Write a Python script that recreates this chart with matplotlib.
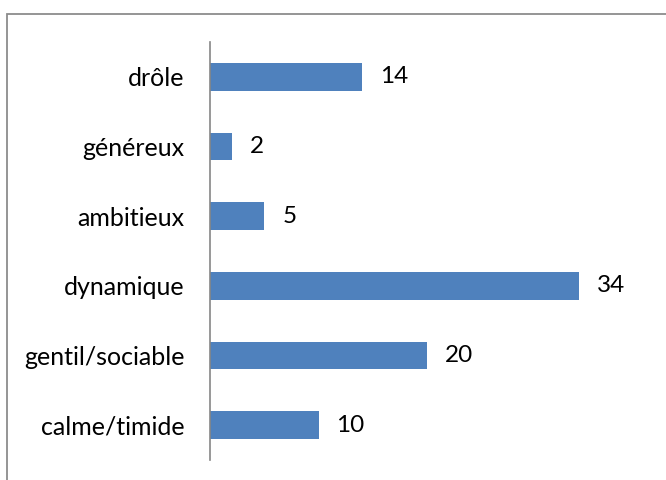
import matplotlib
matplotlib.use('Agg')
import matplotlib.pyplot as plt
from matplotlib.patches import Rectangle

# Categories from bottom to top, as drawn
categories = ['calme/timide', 'gentil/sociable', 'dynamique', 'ambitieux', 'généreux', 'drôle']
values = [10, 20, 34, 5, 2, 14]

W, H = 666, 480
fig = plt.figure(figsize=(W / 100, H / 100), dpi=100)
plt.rcParams['font.family'] = ['Lato', 'DejaVu Sans']

ax = fig.add_axes([210 / W, 1 - 460 / H, (644 - 210) / W, (460 - 42) / H])
ypos = list(range(len(categories)))
ax.barh(ypos, values, height=0.4, color='#4F81BD')

for y, v in zip(ypos, values):
    ax.annotate(str(v), (v, y), xytext=(18, 0), textcoords='offset pixels',
                va='center', ha='left', fontsize=17.5, color='black')

ax.set_xlim(0, 40)
ax.set_ylim(-0.5, len(categories) - 0.5)
ax.set_yticks(ypos)
ax.set_yticklabels(categories, fontsize=18)
ax.tick_params(axis='y', length=0, pad=18.5)
ax.set_xticks([])
for s in ['top', 'right', 'bottom']:
    ax.spines[s].set_visible(False)
ax.spines['left'].set_color('#868686')
ax.spines['left'].set_linewidth(1.2)

# chart frame, only the top and left edges fall inside the picture
fig.patches.append(Rectangle((7 / W, -0.2), 1.2, 1.2 - 14 / H, transform=fig.transFigure,
                             fill=False, edgecolor='#8c8c8c', linewidth=1.3))

fig.savefig('out.png', dpi=100)
